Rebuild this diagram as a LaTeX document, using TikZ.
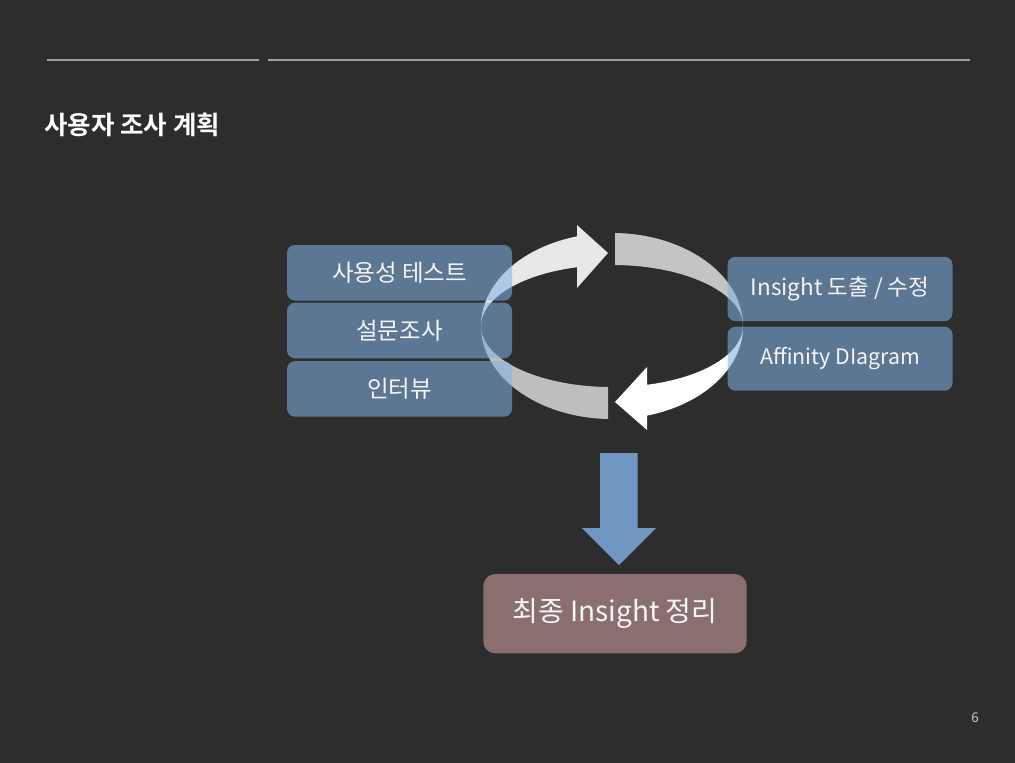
\documentclass[tikz,border=0pt]{standalone}
\usepackage{fontspec}
\setmainfont{Noto Sans CJK KR}[BoldFont={Noto Sans CJK KR Bold}]
\definecolor{bg}{RGB}{45,45,45}
\definecolor{rulegray}{RGB}{160,160,160}
\definecolor{boxblue}{RGB}{130,178,228}
\definecolor{boxtext}{RGB}{245,245,245}
\definecolor{finalbox}{RGB}{139,111,111}
\definecolor{downblue}{RGB}{112,150,194}
\definecolor{ringwhiteA}{RGB}{232,232,232}
\definecolor{ringwhiteB}{RGB}{255,255,255}
\definecolor{ringgrayA}{RGB}{196,196,196}
\definecolor{ringgrayB}{RGB}{190,190,190}
\tikzset{
  hrule/.style={draw=rulegray, line width=1.6pt},
  stagebox/.style={rounded corners=8pt, fill=boxblue, fill opacity=0.56, text opacity=1,
    text=boxtext, font=\fontsize{23.5}{27}\selectfont, inner sep=0pt, minimum width=225pt},
  finalnode/.style={rounded corners=12pt, fill=finalbox, text=boxtext,
    font=\fontsize{28}{32}\selectfont, inner sep=0pt},
}
\begin{document}
\begin{tikzpicture}[x=1pt,y=1pt]
\fill[bg] (0,0) rectangle (1015,-763);
\useasboundingbox (0,0) rectangle (1015,-763);
% header rules
\coordinate (r1a) at (47,-60); \coordinate (r1b) at (259,-60);
\coordinate (r2a) at (268,-60); \coordinate (r2b) at (970,-60);
\draw[hrule] (r1a) -- (r1b);
\draw[hrule] (r2a) -- (r2b);
% title
\node[anchor=west, font=\bfseries\fontsize{25.5}{30}\selectfont, text=white, inner sep=0pt] (title) at (44,-125) {사용자 조사 계획};
% ring: top-left arrow
\fill[ringwhiteA] (481,-326) arc[start angle=180, end angle=105.5, x radius=131, y radius=93]
  -- (577,-225) -- (608,-253) -- (577,-288) -- (577,-267.2)
  arc[start angle=105.5, end angle=180, x radius=131, y radius=61] -- cycle;
% top-right gray
\fill[ringgrayA] (615,-233) arc[start angle=88.7, end angle=0, x radius=131, y radius=93]
  arc[start angle=0, end angle=88.7, x radius=131, y radius=61] -- cycle;
% bottom-right arrow
\fill[ringwhiteB] (743,-326) arc[start angle=0, end angle=-74.5, x radius=131, y radius=93]
  -- (647,-430) -- (615,-402) -- (647,-367) -- (647,-384.8)
  arc[start angle=-74.5, end angle=0, x radius=131, y radius=61] -- cycle;
% bottom-left gray
\fill[ringgrayB] (608,-419) arc[start angle=-91.75, end angle=-180, x radius=131, y radius=93]
  arc[start angle=180, end angle=268.25, x radius=131, y radius=61] -- cycle;
% left boxes
\node[stagebox, minimum height=55.6pt] (b1) at (399.5,-272.8) {사용성 테스트};
\node[stagebox, minimum height=55.6pt] (b2) at (399.5,-330.5) {설문조사};
\node[stagebox, minimum height=55.6pt] (b3) at (399.5,-388.9) {인터뷰};
% right boxes
\node[stagebox, font=\fontsize{22.5}{26}\selectfont, minimum height=64.3pt] (r1) at (840,-288.9) {Insight 도출 / 수정};
\node[stagebox, font=\fontsize{21.3}{25}\selectfont, minimum height=64pt] (r2) at (840,-358.7) {Affinity DIagram};
% down arrow
\fill[downblue] (600,-453) -- (637.5,-453) -- (637.5,-528) -- (656,-528) -- (619,-565)
  -- (582,-528) -- (600,-528) -- cycle;
% final box
\node[finalnode, minimum width=263.4pt, minimum height=79.3pt] (final) at (615,-613.7) {최종 Insight 정리};
% page number
\node[text={rgb,255:red,200;green,200;blue,200}, font=\fontsize{13.5}{16}\selectfont, inner sep=0pt] (pg) at (975,-718) {6};
\end{tikzpicture}
\end{document}
